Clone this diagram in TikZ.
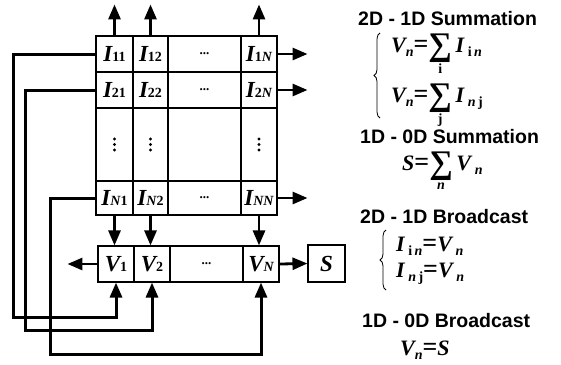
\documentclass[tikz,border=0pt]{standalone}
\usepackage{fontspec}
\setmainfont{Liberation Serif}
\setsansfont{Liberation Sans}
\usetikzlibrary{arrows.meta,decorations.pathreplacing}
\newcommand{\bi}[1]{{\bfseries\itshape #1}}
\newcommand{\lab}[2]{\bi{#1}{\fontsize{14}{14}\selectfont\bfseries #2}}
\newcommand{\lsub}[1]{\raisebox{-4pt}{\fontsize{14}{14}\selectfont\bfseries #1}}
\newcommand{\eqs}{{\fontsize{26}{26}\selectfont\bfseries =}}
\newcommand{\sumu}[1]{\ensuremath{\mathop{\raisebox{-3pt}{\fontsize{33}{33}\selectfont\bfseries ∑}}\limits_{\hbox{\rule{0pt}{8pt}\fontsize{14}{14}\selectfont\bfseries #1}}}}
\newcommand{\vdt}{\tikz[x=1pt,y=1pt]{\fill (0,0) circle (1.7) (0,5.5) circle (1.7) (0,11) circle (1.7);}}
\begin{document}
\begin{tikzpicture}[x=1pt,y=-1pt,
 cell/.style={draw,line width=1.1pt,inner sep=0pt,font=\fontsize{23}{23}\selectfont},
 arr/.style={line width=2.8pt,-{Triangle[length=15pt,width=12pt]}},
 fb/.style={line width=3pt,-{Triangle[length=15pt,width=12pt]}},
 ttl/.style={anchor=base west,inner sep=0pt,font=\sffamily\bfseries\fontsize{19.5}{20}\selectfont},
 eq/.style={anchor=base west,inner sep=0pt,font=\fontsize{22}{22}\selectfont},
 brc/.style={decorate,decoration={brace,amplitude=6pt},line width=0.8pt}]
\useasboundingbox (0,0) rectangle (561,364);
% grid
\node[cell,minimum width=37pt,minimum height=36pt] (I11) at (114.5,54) {\lab{I}{11}};
\node[cell,minimum width=35pt,minimum height=36pt] (I12) at (150.5,54) {\lab{I}{12}};
\node[cell,minimum width=73pt,minimum height=36pt] (I1m) at (204.5,54) {\fontsize{13}{13}\selectfont\bfseries ...};
\node[cell,minimum width=36pt,minimum height=36pt] (I1N) at (259,54) {\lab{I}{1\itshape N}};
\node[cell,minimum width=37pt,minimum height=36pt] (I21) at (114.5,90) {\lab{I}{21}};
\node[cell,minimum width=35pt,minimum height=36pt] (I22) at (150.5,90) {\lab{I}{22}};
\node[cell,minimum width=73pt,minimum height=36pt] (I2m) at (204.5,90) {\fontsize{13}{13}\selectfont\bfseries ...};
\node[cell,minimum width=36pt,minimum height=36pt] (I2N) at (259,90) {\lab{I}{2\itshape N}};
\node[cell,minimum width=37pt,minimum height=73pt] (Id1) at (114.5,144.5) {\vdt};
\node[cell,minimum width=35pt,minimum height=73pt] (Id2) at (150.5,144.5) {\vdt};
\node[cell,minimum width=73pt,minimum height=73pt] (Idm) at (204.5,144.5) {};
\node[cell,minimum width=36pt,minimum height=73pt] (IdN) at (259,144.5) {\vdt};
\node[cell,minimum width=37pt,minimum height=34pt] (IN1) at (114.5,198) {\lab{I}{\itshape N\upshape 1}};
\node[cell,minimum width=35pt,minimum height=34pt] (IN2) at (150.5,198) {\lab{I}{\itshape N\upshape 2}};
\node[cell,minimum width=73pt,minimum height=34pt] (INm) at (204.5,198) {\fontsize{13}{13}\selectfont\bfseries ...};
\node[cell,minimum width=36pt,minimum height=34pt] (INN) at (259,198) {\lab{I}{\itshape NN}};
% V row
\node[cell,minimum width=36pt,minimum height=36pt] (V1) at (116,264) {\lab{V}{1}};
\node[cell,minimum width=36pt,minimum height=36pt] (V2) at (152,264) {\lab{V}{2}};
\node[cell,minimum width=73pt,minimum height=36pt] (Vm) at (206.5,264) {\fontsize{13}{13}\selectfont\bfseries ...};
\node[cell,minimum width=36pt,minimum height=36pt] (VN) at (261,264) {\lab{V}{\itshape N}};
\node[cell,minimum width=37pt,minimum height=37pt] (S) at (326.5,263.5) {\bi{S}};
% arrows up
\draw[arr] (I11.north) -- ++(0,-31);
\draw[arr] (I12.north) -- ++(0,-31);
\draw[arr] (I1N.north) -- ++(0,-31);
% arrows right
\draw[arr] (I1N.east) -- ++(30,0);
\draw[arr] (I2N.east) -- ++(30,0);
\draw[arr] (INN.east) -- ++(30,0);
% arrows down
\draw[arr] (IN1.south) -- (IN1.south |- V1.north);
\draw[arr] (IN2.south) -- (IN2.south |- V2.north);
\draw[arr] (INN.south) -- (INN.south |- VN.north);
\draw[arr] (VN.east) -- (S.west);
\draw[arr] (V1.west) -- ++(-30,0);
% feedback
\coordinate (f1) at (13,317);
\coordinate (f2) at (25,330);
\coordinate (f3) at (50,354);
\draw[fb] (I11.west) -| (f1) -| (V1.south);
\draw[fb] (I21.west) -| (f2) -| (V2.south);
\draw[fb] (IN1.west) -| (f3) -| (VN.south);
% text
\node[ttl] (t1) at (358,25) {2D - 1D Summation};
\draw[brc] (380,118) -- (380,33);
\node[eq] (e1) at (391,52) {\bi{V}\lsub{\itshape n}\eqs\sumu{i}\,\bi{I}\,\lsub{i\,\itshape n}};
\node[eq] (e2) at (391,102) {\bi{V}\lsub{\itshape n}\eqs\sumu{j}\,\bi{I}\,\lsub{\itshape n\,\upshape j}};
\node[ttl] (t2) at (360,143) {1D - 0D Summation};
\node[eq] (e3) at (402,170) {\bi{S}\eqs\sumu{\itshape n}\,\bi{V}\,\lsub{\itshape n}};
\node[ttl] (t3) at (360,223) {2D - 1D Broadcast};
\draw[brc] (386,290) -- (386,230);
\node[eq] (e4) at (396,251) {\bi{I}\,\lsub{i\,\itshape n}\eqs\bi{V}\,\lsub{\itshape n}};
\node[eq] (e5) at (396,277) {\bi{I}\,\lsub{\itshape n\,\upshape j}\eqs\bi{V}\,\lsub{\itshape n}};
\node[ttl] (t4) at (362,327) {1D - 0D Broadcast};
\node[eq] (e6) at (400,355) {\bi{V}\lsub{\itshape n}\eqs\bi{S}};
\end{tikzpicture}
\end{document}
